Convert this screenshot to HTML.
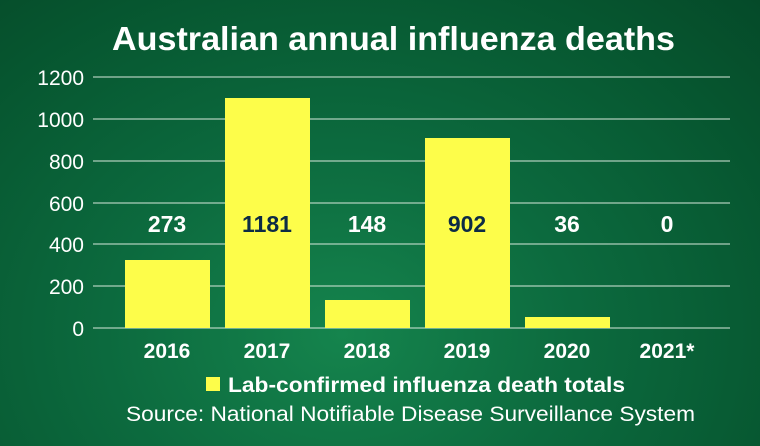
<!DOCTYPE html>
<html><head><meta charset="utf-8"><style>
body{margin:0;width:760px;height:446px;overflow:hidden;font-family:"Liberation Sans",sans-serif;}
.bg{position:absolute;left:0;top:0;width:760px;height:446px;background:radial-gradient(ellipse at 45% 75%,#15844d 0%,#0c6a3e 40%,#06552f 80%,#054a29 100%);}
</style></head><body><div class="bg"></div>
<svg width="760" height="446" style="position:absolute;left:0;top:0">
<g stroke="#d8e8dc" stroke-opacity="0.8" stroke-width="1.2">
<line x1="93" x2="730" y1="77" y2="77"/><line x1="93" x2="730" y1="119" y2="119"/>
<line x1="93" x2="730" y1="161" y2="161"/><line x1="93" x2="730" y1="203" y2="203"/>
<line x1="93" x2="730" y1="244" y2="244"/><line x1="93" x2="730" y1="286" y2="286"/>
<line x1="93" x2="730" y1="328" y2="328"/></g>
<g fill="#fdfd4a">
<rect x="125" y="260" width="85" height="68"/>
<rect x="225" y="98" width="85" height="230"/>
<rect x="325" y="300" width="85" height="28"/>
<rect x="425" y="138" width="85" height="190"/>
<rect x="525" y="317" width="85" height="11"/>
<rect x="206" y="377" width="14" height="14"/>
</g>
<g font-family="Liberation Sans" font-size="21" fill="#fff" text-anchor="end">
<text x="84" y="85">1200</text><text x="84" y="127">1000</text><text x="84" y="169">800</text>
<text x="84" y="211">600</text><text x="84" y="252">400</text><text x="84" y="294">200</text><text x="84" y="336">0</text>
</g>
<g font-family="Liberation Sans" font-size="23" font-weight="bold" text-anchor="middle">
<text x="167" y="232" fill="#fff">273</text><text x="267" y="232" fill="#0d2b45">1181</text>
<text x="367" y="232" fill="#fff">148</text><text x="467" y="232" fill="#0d2b45">902</text>
<text x="567" y="232" fill="#fff">36</text><text x="667" y="232" fill="#fff">0</text>
</g>
<g font-family="Liberation Sans" font-size="21" font-weight="bold" fill="#fff" text-anchor="middle">
<text x="167" y="358">2016</text><text x="267" y="358">2017</text><text x="367" y="358">2018</text>
<text x="467" y="358">2019</text><text x="567" y="358">2020</text><text x="667" y="358">2021*</text>
</g>
<text x="112" y="50" font-family="Liberation Sans" font-size="33" font-weight="bold" fill="#fff" textLength="563" lengthAdjust="spacingAndGlyphs">Australian annual influenza deaths</text>
<text x="228" y="392" font-family="Liberation Sans" font-size="21" font-weight="bold" fill="#fff" textLength="397" lengthAdjust="spacingAndGlyphs">Lab-confirmed influenza death totals</text>
<text x="126" y="421" font-family="Liberation Sans" font-size="21" fill="#fff" textLength="569" lengthAdjust="spacingAndGlyphs">Source: National Notifiable Disease Surveillance System</text>
</svg>
</body></html>
